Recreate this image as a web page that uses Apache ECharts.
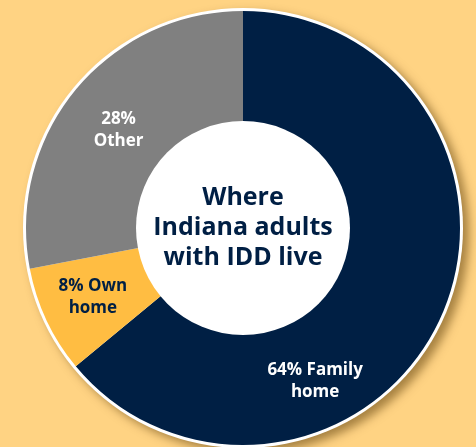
<!DOCTYPE html>
<html><head><meta charset="utf-8">
<script src="https://cdn.jsdelivr.net/npm/echarts@6/dist/echarts.min.js"></script>
<style>html,body{margin:0;padding:0;background:#FFD383;}#c{width:476px;height:447px;}</style>
</head><body><div id="c"></div>
<script>
const categories = ['64% Family\nhome', '8% Own\nhome', '28%\nOther'];
const values = [64, 8, 28];
const colors = ['#001F44', '#FFBD42', '#808080'];
const labelColors = ['#ffffff', '#001F44', '#ffffff'];
const centerTitle = 'Where\nIndiana adults\nwith IDD live';

const chart = echarts.init(document.getElementById('c'));
const center = [243, 228];
chart.setOption({
  backgroundColor: '#FFD383',
  animation: false,
  series: [
    {
      type: 'pie', silent: true, center: center, radius: [0, 220],
      label: {show: false}, labelLine: {show: false},
      itemStyle: {color: '#ffffff', shadowColor: 'rgba(80,50,0,0.5)', shadowBlur: 10, shadowOffsetX: 6, shadowOffsetY: 5},
      data: [{value: 1, name: 'ring'}]
    },
    {
      type: 'pie', silent: true, center: center, radius: [100, 217], startAngle: 90, clockwise: true,
      labelLine: {show: false},
      label: {show: true, position: 'inside', fontFamily: 'Open Sans', fontWeight: 'bold', fontSize: 17, lineHeight: 22, formatter: '{b}'},
      data: categories.map((n, i) => ({
        name: n, value: values[i],
        itemStyle: {color: colors[i]},
        label: Object.assign({color: labelColors[i]}, i === 0 ? {offset: [-74, 84]} : (i === 2 ? {offset: [0, 5]} : {offset: [-4, 0]}))
      }))
    },
    {
      type: 'pie', silent: true, center: center, radius: [0, 107],
      labelLine: {show: false},
      label: {show: true, position: 'center', formatter: centerTitle, color: '#001F44', fontFamily: 'Open Sans', fontWeight: 'bold', fontSize: 25, lineHeight: 30},
      itemStyle: {color: '#ffffff'},
      data: [{value: 1, name: 'center'}]
    }
  ]
});
</script></body></html>
